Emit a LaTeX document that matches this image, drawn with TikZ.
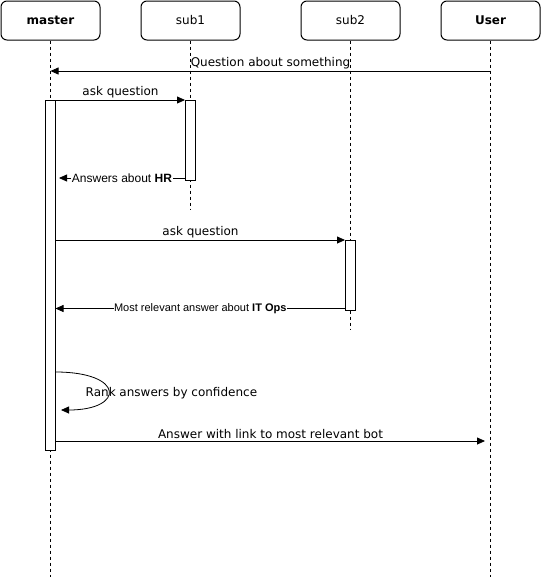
\documentclass[tikz,border=0pt]{standalone}
\usepackage{fontspec}
\setmainfont{DejaVu Sans}
\newfontfamily\helvfont{Liberation Sans}
\usetikzlibrary{arrows.meta}

\begin{document}
\begin{tikzpicture}[x=1pt,y=-1pt,
    party/.style={draw,rounded corners=6pt,line width=1pt,minimum width=99pt,minimum height=39pt,font=\fontsize{12}{14}\selectfont},
    life/.style={dash pattern=on 3pt off 3pt,line width=0.8pt},
    actbox/.style={draw,fill=white,line width=1pt,minimum width=10pt,inner sep=0pt,anchor=north},
    msg/.style={-{Triangle[length=8pt,width=7pt]},line width=0.8pt},
    lbl/.style={font=\fontsize{12}{14}\selectfont,inner sep=1.5pt},
    small/.style={font=\helvfont\fontsize{12}{14}\selectfont,fill=white,inner sep=0.5pt}]
      \useasboundingbox (0,0) rectangle (541,581);
      \node[party] (master) at (50.5,20.5) {\bfseries master};
      \node[party] (sub1) at (190.5,20.5) {sub1};
      \node[party] (sub2) at (350.5,20.5) {sub2};
      \node[party] (user) at (490.5,20.5) {\bfseries User};
      \coordinate (masterend) at (50.5,577);
      \coordinate (subaend) at (190.5,210);
      \coordinate (subbend) at (350.5,330);
      \coordinate (userend) at (490.5,577);
      \draw[life] (master) -- (masterend);
      \draw[life] (sub1) -- (subaend);
      \draw[life] (sub2) -- (subbend);
      \draw[life] (user) -- (userend);
      \node[actbox,minimum height=350pt] (actm) at (50.5,100) {};
      \node[actbox,minimum height=80pt] (acta) at (190.5,100) {};
      \node[actbox,minimum height=70pt] (actb) at (350.5,240) {};
      \coordinate (ask) at (490.5,71);
      \coordinate (hr) at (59,178);
      \coordinate (itops) at (55.5,308.5);
      \coordinate (rankin) at (55.5,372);
      \coordinate (rankout) at (61,410);
      \coordinate (reply) at (485,441);
      \draw[msg] (ask) -- (ask -| master) node[midway,above,lbl] {Question about something};
      \draw[msg] (actm.east |- acta.north) -- (acta.north west) node[midway,above,lbl,inner sep=2pt] {ask question};
      \draw[msg] (acta.south west |- hr) -- (hr) node[midway,small] {Answers about \textbf{HR}};
      \draw[msg] (actm.east |- actb.north) -- (actb.north west) node[midway,above,lbl,inner sep=2pt] {ask question};
      \draw[msg] (actb.south west |- itops) -- (itops) node[midway,small,font=\helvfont\fontsize{11}{13}\selectfont] {Most relevant answer about \textbf{IT Ops}};
      \draw[msg] (rankin) .. controls (125,372) and (125,410) .. (rankout);
      \node[lbl,anchor=west] (rank) at (84,393) {Rank answers by confidence};
      \draw[msg] (actm.east |- reply) -- (reply) node[midway,above,lbl] {Answer with link to most relevant bot};
    \end{tikzpicture}
\end{document}
